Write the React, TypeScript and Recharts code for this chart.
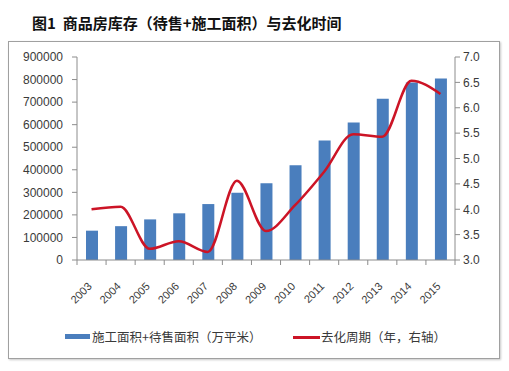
import React from 'react';
import { ComposedChart, Bar, Line, XAxis, YAxis } from 'recharts';

const years = ['2003', '2004', '2005', '2006', '2007', '2008', '2009', '2010', '2011', '2012', '2013', '2014', '2015'];
const inventory = [130000, 150000, 180000, 207000, 248000, 298000, 340000, 420000, 530000, 610000, 715000, 787000, 805000];
const cycle = [4.0, 4.05, 3.22, 3.37, 3.16, 4.56, 3.57, 4.08, 4.74, 5.48, 5.43, 6.53, 6.27];
const leftTicks = [0, 100000, 200000, 300000, 400000, 500000, 600000, 700000, 800000, 900000];
const rightTicks = [3.0, 3.5, 4.0, 4.5, 5.0, 5.5, 6.0, 6.5, 7.0];
const titleText = '图1  商品房库存（待售+施工面积）与去化时间';
const barName = '施工面积+待售面积（万平米）';
const lineName = '去化周期（年，右轴）';

const data = years.map((y, i) => ({ year: y, inventory: inventory[i], cycle: cycle[i] }));

const W = 509;
const H = 371;
const LEFT_W = 77;
const RIGHT_W = 54;
const PLOT_W = W - LEFT_W - RIGHT_W;
const BAND = PLOT_W / years.length;

const BAR_COLOR = '#4A7EBD';
const LINE_COLOR = '#CC1426';
const AXIS_COLOR = '#8C8C8C';
const TEXT_COLOR = '#3A3A3A';
const FONT = '"Liberation Sans", Arial, sans-serif';
const CJK = '"Noto Sans CJK SC", sans-serif';

const XTick = (props: any) => {
  const { x, y, payload, index } = props;
  const last = index === years.length - 1;
  const tx = x + 1;
  const ty = y + 27;
  return (
    <g>
      <line x1={x - BAND / 2} y1={y} x2={x - BAND / 2} y2={y + 5} stroke={AXIS_COLOR} />
      {last && <line x1={x + BAND / 2} y1={y} x2={x + BAND / 2} y2={y + 5} stroke={AXIS_COLOR} />}
      <text
        x={tx}
        y={ty}
        transform={`rotate(-45, ${tx}, ${ty})`}
        textAnchor="end"
        fontSize={11}
        fontFamily={FONT}
        fill={TEXT_COLOR}
      >
        {payload.value}
      </text>
    </g>
  );
};

export default function App() {
  return (
    <div style={{ position: 'absolute', left: 0, top: 0, width: W, height: H, background: '#fff', overflow: 'hidden' }}>
      <div
        style={{
          position: 'absolute',
          left: 32,
          top: 13,
          fontFamily: CJK,
          fontWeight: 'bold',
          fontSize: 15,
          lineHeight: '20px',
          color: '#111',
          whiteSpace: 'pre',
        }}
      >
        {titleText}
      </div>
      <div
        style={{
          position: 'absolute',
          left: 8,
          top: 41,
          width: 490,
          height: 316,
          border: '1px solid #a0a0a0',
          boxShadow: '1px 1px 2px #c8c8c8',
        }}
      />
      <div style={{ position: 'absolute', left: 0, top: 0 }}>
        <ComposedChart width={W} height={H} data={data} margin={{ top: 57, right: 0, bottom: 71, left: 0 }} barCategoryGap="0%">
          <XAxis
            dataKey="year"
            height={40}
            interval={0}
            tickLine={false}
            tickSize={0}
            tickMargin={0}
            axisLine={{ stroke: AXIS_COLOR }}
            tick={<XTick />}
          />
          <YAxis
            yAxisId="left"
            orientation="left"
            width={LEFT_W}
            domain={[0, 900000]}
            ticks={leftTicks}
            interval={0}
            tickSize={5}
            tickMargin={9}
            axisLine={{ stroke: AXIS_COLOR }}
            tickLine={{ stroke: AXIS_COLOR }}
            tick={{ fontSize: 12, fontFamily: FONT, fill: TEXT_COLOR }}
          />
          <YAxis
            yAxisId="right"
            orientation="right"
            width={RIGHT_W}
            domain={[3, 7]}
            ticks={rightTicks}
            interval={0}
            tickSize={5}
            tickMargin={3}
            tickFormatter={(v: number) => v.toFixed(1)}
            axisLine={{ stroke: AXIS_COLOR }}
            tickLine={{ stroke: AXIS_COLOR }}
            tick={{ fontSize: 12, fontFamily: FONT, fill: TEXT_COLOR }}
          />
          <Bar yAxisId="left" dataKey="inventory" name={barName} fill={BAR_COLOR} barSize={12} isAnimationActive={false} />
          <Line
            yAxisId="right"
            dataKey="cycle"
            name={lineName}
            type="monotone"
            stroke={LINE_COLOR}
            strokeWidth={2.5}
            dot={false}
            activeDot={false}
            isAnimationActive={false}
          />
        </ComposedChart>
      </div>
      <div style={{ position: 'absolute', left: 65, top: 334, width: 25, height: 5, background: BAR_COLOR }} />
      <div
        style={{
          position: 'absolute',
          left: 92,
          top: 328,
          fontFamily: CJK,
          fontSize: 12.5,
          lineHeight: '18px',
          color: TEXT_COLOR,
          whiteSpace: 'pre',
        }}
      >
        {barName}
      </div>
      <div style={{ position: 'absolute', left: 293, top: 336, width: 27, height: 2.5, background: LINE_COLOR }} />
      <div
        style={{
          position: 'absolute',
          left: 321,
          top: 328,
          fontFamily: CJK,
          fontSize: 12.5,
          lineHeight: '18px',
          color: TEXT_COLOR,
          whiteSpace: 'pre',
        }}
      >
        {lineName}
      </div>
    </div>
  );
}
